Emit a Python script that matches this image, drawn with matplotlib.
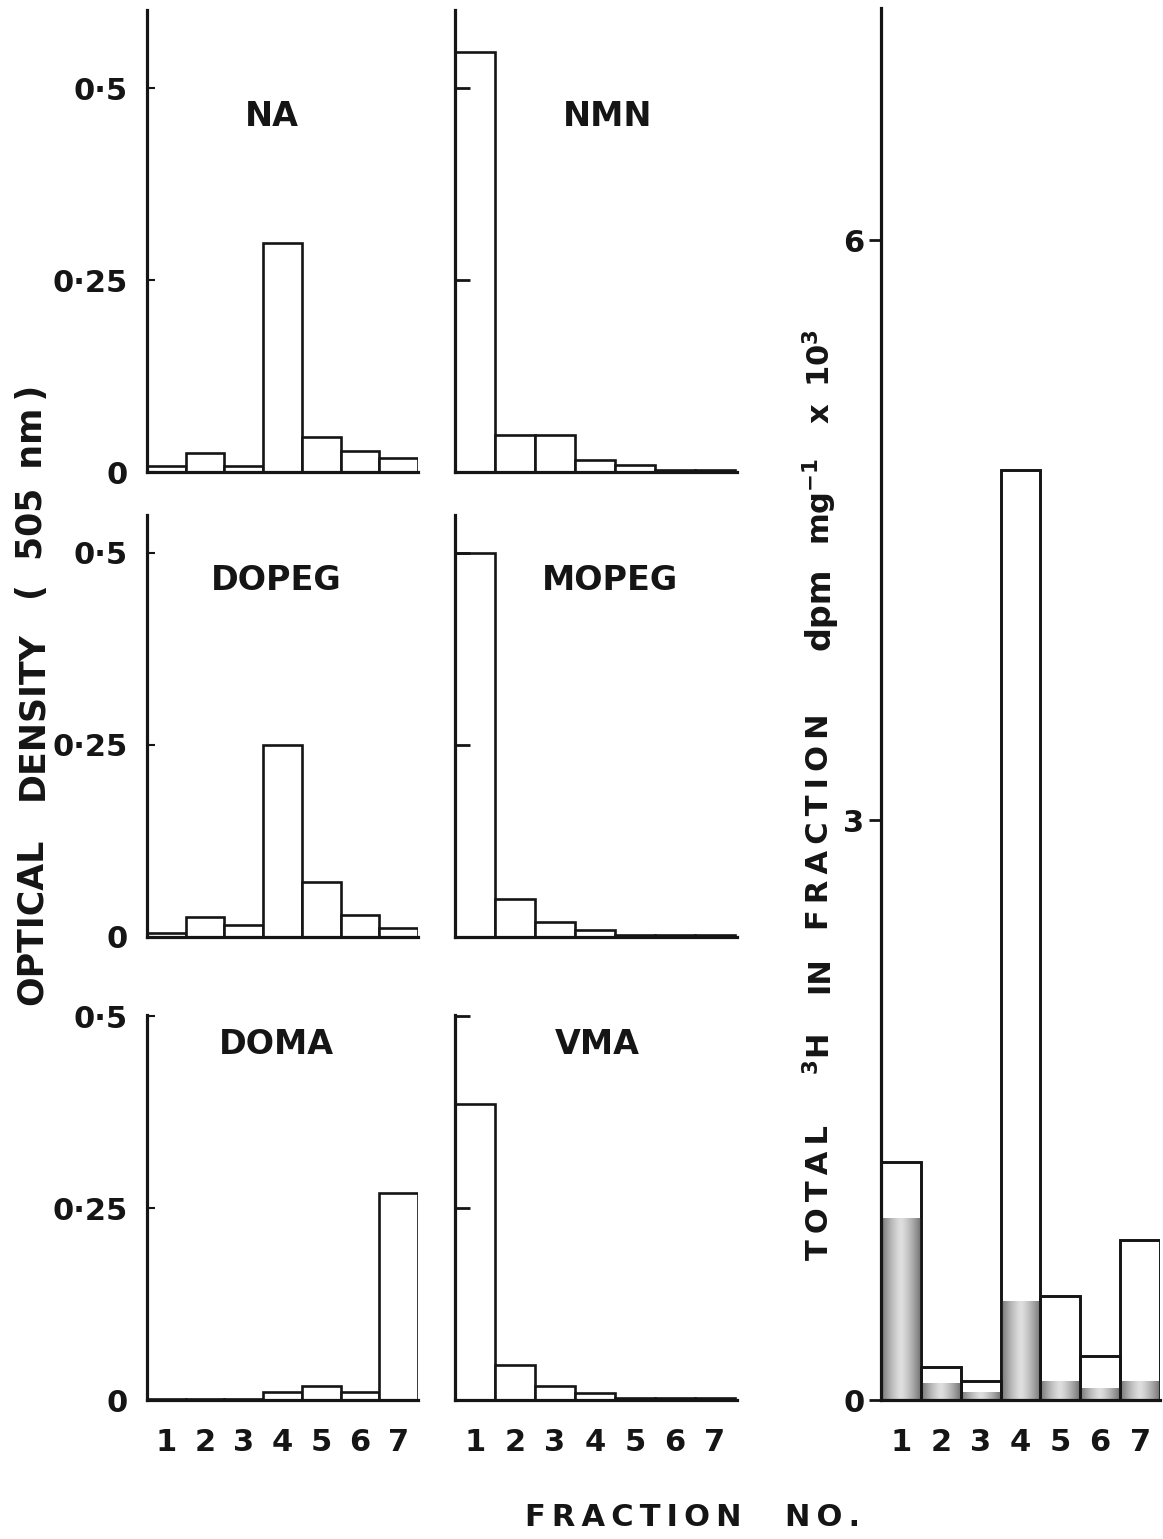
import numpy as np
import matplotlib
matplotlib.use('Agg')
import matplotlib.pyplot as plt

plt.rcParams['font.family'] = ['DejaVu Sans']
plt.rcParams['font.weight'] = 'bold'
plt.rcParams['mathtext.default'] = 'bf'

# Data
fractions = [1, 2, 3, 4, 5, 6, 7]
frac_labels = ['1', '2', '3', '4', '5', '6', '7']

na = [0.008, 0.025, 0.008, 0.298, 0.046, 0.027, 0.018]
nmn = [0.547, 0.048, 0.048, 0.016, 0.009, 0.002, 0.002]
dopeg = [0.005, 0.026, 0.016, 0.250, 0.072, 0.029, 0.012]
mopeg = [0.500, 0.050, 0.020, 0.009, 0.002, 0.002, 0.002]
doma = [0.001, 0.001, 0.001, 0.010, 0.018, 0.010, 0.270]
vma = [0.385, 0.046, 0.018, 0.009, 0.003, 0.003, 0.003]

panel_names = ['NA', 'NMN', 'DOPEG', 'MOPEG', 'DOMA', 'VMA']
panel_values = [na, nmn, dopeg, mopeg, doma, vma]

od_ticks = [0, 0.25, 0.5]
od_labels = ['0', '0\u00b725', '0\u00b75']

total_3h = [1.23, 0.17, 0.10, 4.81, 0.54, 0.23, 0.83]
shaded_3h = [0.94, 0.09, 0.04, 0.51, 0.10, 0.06, 0.10]
total_ticks = [0, 3, 6]

TS = '\u2009'  # thin space, used for the letter-spaced lettering


def spaced(s):
    return TS.join(s)


W, H = 1163, 1539
BLACK = '#151515'
fig = plt.figure(figsize=(W / 100, H / 100), dpi=100)


def px_axes(x0, y_top, x1, y_bot):
    return fig.add_axes([x0 / W, 1 - y_bot / H, (x1 - x0) / W, (y_bot - y_top) / H])


def ftext(x, y, s, size=22, **kw):
    return fig.text(x / W, 1 - y / H, s, fontsize=size, fontweight='bold', color=BLACK, **kw)


def vtext(x, y_bottom, s, size=22):
    # rotated text whose lower end sits at pixel row y_bottom
    return ftext(x, y_bottom, s, size, rotation=90, ha='center', va='bottom')


# pixel boxes for the six small panels
col_x = [(147, 418), (455, 737)]
row_y = [(10, 472), (515, 937), (1015, 1400)]
px_per_unit = 768.0
title_pos = [(272, 117), (608, 117), (276, 580), (610, 580), (276, 1045), (597, 1045)]

for i, (name, vals) in enumerate(zip(panel_names, panel_values)):
    r, c = divmod(i, 2)
    x0, x1 = col_x[c]
    yt, yb = row_y[r]
    ax = px_axes(x0, yt, x1, yb)
    ax.bar(fractions, vals, width=1.0, facecolor='white', edgecolor=BLACK, linewidth=1.9)
    ax.set_xlim(0.5, 7.5 + (0.05 if c == 1 else 0))
    ax.set_ylim(0, (yb - yt) / px_per_unit)
    for side in ['top', 'right']:
        ax.spines[side].set_visible(False)
    for side in ['left', 'bottom']:
        ax.spines[side].set_linewidth(2.3)
        ax.spines[side].set_color(BLACK)
    ax.set_yticks(od_ticks)
    if c == 0:
        ax.set_yticklabels(od_labels, fontsize=22, fontweight='bold')
        ax.tick_params(axis='y', direction='in', length=6, width=1.5, pad=14, colors=BLACK)
    else:
        ax.set_yticklabels([])
        ax.tick_params(axis='y', direction='in', length=11, width=2, colors=BLACK)
    ax.set_xticks(fractions)
    if r == 2:
        ax.set_xticklabels(frac_labels, fontsize=22, fontweight='bold')
        ax.tick_params(axis='x', length=0, pad=20, colors=BLACK)
    else:
        ax.set_xticklabels([])
        ax.tick_params(axis='x', length=0)
    tx, ty = title_pos[i]
    ftext(tx, ty, name, 24, ha='center', va='center')

# right panel: total 3H
axr = px_axes(881, 8, 1160, 1400)
xs = np.array(fractions, dtype=float)
axr.bar(xs, total_3h, width=1.0, facecolor='white', edgecolor=BLACK, linewidth=1.9, zorder=1)
grad = np.abs(np.linspace(-1, 1, 60)) ** 1.4
grad = (0.45 + 0.42 * (1 - grad))[None, :]
shade_bars = axr.bar(xs, shaded_3h, width=1.0, facecolor='#999999', edgecolor='none', zorder=2)
for rect in shade_bars:
    bx, by = rect.get_x(), rect.get_y()
    bw, bh = rect.get_width(), rect.get_height()
    im = axr.imshow(grad, cmap='gray', vmin=0, vmax=1, extent=[bx, bx + bw, by, by + bh],
                    aspect='auto', zorder=3, interpolation='bilinear')
    im.set_clip_path(rect)
axr.bar(xs, total_3h, width=1.0, facecolor='none', edgecolor=BLACK, linewidth=1.9, zorder=4)
axr.set_xlim(0.5, 7.5)
axr.set_ylim(0, 1392 / 193.3)
for side in ['top', 'right']:
    axr.spines[side].set_visible(False)
for side in ['left', 'bottom']:
    axr.spines[side].set_linewidth(2.3)
    axr.spines[side].set_color(BLACK)
    axr.spines[side].set_zorder(5)
axr.set_yticks(total_ticks)
axr.set_yticklabels([str(t) for t in total_ticks], fontsize=22, fontweight='bold')
axr.tick_params(axis='y', direction='out', length=9, width=2, pad=3, colors=BLACK)
axr.set_xticks(fractions)
axr.set_xticklabels(frac_labels, fontsize=22, fontweight='bold')
axr.tick_params(axis='x', length=0, pad=20, colors=BLACK)

# left axis title, set word by word
vtext(32, 1005, 'OPTICAL', 25)
vtext(32, 800, 'DENSITY', 25)
vtext(32, 600, '(  505 ' + TS + 'nm' + TS + ')', 25)

# right axis title
vtext(820, 1260, spaced('TOTAL'), 22)
vtext(820, 1075, r'$^{3}$H', 22)
vtext(820, 993, 'IN', 22)
vtext(820, 930, spaced('FRACTION'), 22)
vtext(820, 650, 'dpm', 24)
vtext(820, 545, r'mg$^{-1}$', 22)
vtext(820, 423, 'x', 22)
vtext(820, 387, r'10$^{3}$', 22)

# bottom title
ftext(525, 1518, spaced('FRACTION'), 22, ha='left', va='center')
ftext(785, 1518, spaced('NO.'), 22, ha='left', va='center')

fig.savefig('out.png', dpi=100, facecolor='white')
plt.close(fig)
